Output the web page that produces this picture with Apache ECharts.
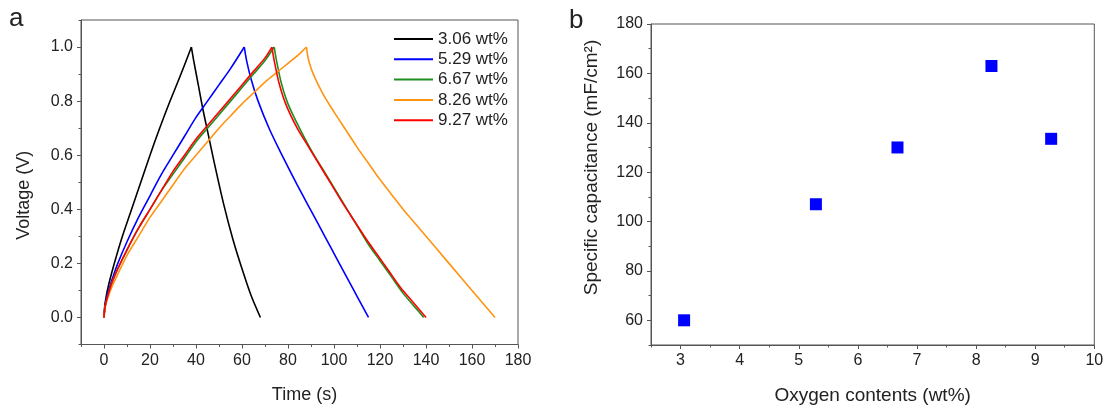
<!DOCTYPE html>
<html>
<head>
<meta charset="utf-8">
<script src="https://cdn.jsdelivr.net/npm/echarts@6/dist/echarts.min.js"></script>
<style>
  html, body { margin: 0; padding: 0; background: #fff; }
  #chart { width: 1108px; height: 410px; }
</style>
</head>
<body>
<div id="chart"></div>
<script>
// ---------- Data (panel a: galvanostatic charge/discharge, [time s, voltage V]) ----------
const seriesNames = ['3.06 wt%', '5.29 wt%', '6.67 wt%', '8.26 wt%', '9.27 wt%'];
const seriesColors = ['#000000', '#0000ff', '#1e8f1e', '#ff9412', '#ff0000'];

const charge306 = [[0,0],[0.3,0.04],[1,0.08],[2,0.12],[3.5,0.17],[5.5,0.23],[8,0.3],[12,0.4],[16,0.5],[20,0.6],[24,0.695],[28,0.785],[33,0.89],[38,1.0]];
const discharge306 = [[38,1.0],[39,0.95],[41,0.86],[43,0.77],[45,0.69],[48,0.57],[52,0.42],[56,0.29],[60,0.18],[64,0.08],[68,0]];
const charge529 = [[0,0],[0.3,0.03],[1,0.07],[2,0.1],[3.5,0.14],[6,0.2],[10,0.28],[15,0.37],[20,0.45],[25,0.53],[30,0.6],[35,0.67],[40,0.74],[45,0.8],[50,0.86],[55,0.92],[61,1.0]];
const discharge529 = [[61,1.0],[62,0.95],[64,0.88],[67,0.8],[72,0.695],[78,0.59],[84,0.49],[90,0.395],[96,0.3],[102,0.205],[108,0.11],[115,0]];
const charge667 = [[0,0],[0.3,0.03],[1,0.06],[2,0.09],[3.5,0.13],[6,0.18],[10,0.25],[15,0.33],[20,0.4],[25,0.47],[30,0.53],[35,0.59],[40,0.65],[45,0.7],[50,0.75],[55,0.8],[60,0.85],[65,0.9],[70,0.95],[74,1.0]];
const discharge667 = [[74,1.0],[75,0.95],[77,0.87],[80,0.79],[85,0.7],[90,0.62],[95,0.55],[100,0.48],[105,0.41],[110,0.34],[115,0.27],[120,0.21],[125,0.15],[130,0.09],[135,0.04],[139,0]];
const charge826 = [[0,0],[0.3,0.03],[1,0.055],[2,0.08],[3.5,0.115],[6,0.16],[10,0.23],[15,0.3],[20,0.37],[25,0.43],[30,0.49],[35,0.55],[40,0.6],[45,0.65],[50,0.7],[55,0.745],[60,0.79],[65,0.83],[70,0.87],[75,0.905],[80,0.94],[85,0.975],[88,1.0]];
const discharge826 = [[88,1.0],[89,0.95],[91,0.9],[95,0.83],[100,0.76],[105,0.695],[110,0.63],[115,0.57],[120,0.51],[125,0.455],[130,0.4],[135,0.35],[140,0.3],[145,0.25],[150,0.2],[155,0.15],[160,0.1],[165,0.05],[170,0]];
const charge927 = [[0,0],[0.3,0.03],[1,0.06],[2,0.09],[3.5,0.13],[6,0.18],[10,0.25],[15,0.33],[20,0.4],[25,0.47],[30,0.54],[35,0.6],[40,0.66],[45,0.71],[50,0.76],[55,0.81],[60,0.86],[65,0.91],[70,0.96],[73,1.0]];
const discharge927 = [[73,1.0],[74,0.95],[76,0.87],[79,0.79],[84,0.7],[89,0.63],[94,0.56],[99,0.49],[104,0.42],[109,0.355],[114,0.29],[119,0.23],[124,0.17],[129,0.11],[134,0.06],[140,0]];

const chargeCurves = [charge306, charge529, charge667, charge826, charge927];
const dischargeCurves = [discharge306, discharge529, discharge667, discharge826, discharge927];

// ---------- Data (panel b) ----------
const oxygenContent = [3.06, 5.29, 6.67, 8.26, 9.27];
const capacitance = [60, 107, 130, 163, 133.5];

// ---------- Tick values ----------
const timeTicks = [0, 20, 40, 60, 80, 100, 120, 140, 160, 180];
const timeMinor = [-10, 10, 30, 50, 70, 90, 110, 130, 150, 170];
const voltTicks = [0.0, 0.2, 0.4, 0.6, 0.8, 1.0];
const voltMinor = [-0.1, 0.1, 0.3, 0.5, 0.7, 0.9, 1.1];
const oxyTicks = [3, 4, 5, 6, 7, 8, 9, 10];
const oxyMinor = [2.5, 3.5, 4.5, 5.5, 6.5, 7.5, 8.5, 9.5];
const capTicks = [60, 80, 100, 120, 140, 160, 180];
const capMinor = [50, 70, 90, 110, 130, 150, 170];

const FONT = '"Liberation Sans", Arial, Helvetica, sans-serif';
const AX = '#555';
const TXT = '#222';

function majorAxis(gridIndex, min, max, ticks, position, name, nameGap, fmt, nameSize, namePad) {
  return {
    type: 'value', gridIndex, min, max, position,
    name, nameLocation: 'middle', nameGap,
    nameTextStyle: { fontFamily: FONT, fontSize: nameSize, color: TXT, padding: namePad },
    axisLine: { show: true, onZero: false, lineStyle: { color: AX, width: 1 } },
    axisTick: { show: true, inside: false, length: 4, lineStyle: { color: AX, width: 1 }, customValues: ticks },
    axisLabel: { show: true, margin: 8, fontFamily: FONT, fontSize: 16, color: TXT, customValues: ticks, formatter: fmt },
    splitLine: { show: false }
  };
}
function minorAxis(gridIndex, min, max, ticks, position) {
  return {
    type: 'value', gridIndex, min, max, position,
    axisLine: { show: false, onZero: false },
    axisTick: { show: true, inside: false, length: 2.5, lineStyle: { color: AX, width: 1 }, customValues: ticks },
    axisLabel: { show: false },
    splitLine: { show: false }
  };
}

const chart = echarts.init(document.getElementById('chart'), null, { renderer: 'canvas' });

const lineSeries = [];
[chargeCurves, dischargeCurves].forEach(group => {
  group.forEach((c, i) => {
    lineSeries.push({
      name: seriesNames[i], type: 'line', xAxisIndex: 0, yAxisIndex: 0,
      data: c, showSymbol: false, symbol: 'none', smooth: 0.3,
      lineStyle: { color: seriesColors[i], width: 1.6 }, itemStyle: { color: seriesColors[i] },
      z: 2 + i
    });
  });
});

chart.setOption({
  animation: false,
  backgroundColor: '#fff',
  textStyle: { fontFamily: FONT },
  grid: [
    { left: 81, right: 590, top: 20, bottom: 65.5, show: true, borderColor: AX, borderWidth: 1, backgroundColor: 'transparent' },
    { left: 651, right: 13.7, top: 24, bottom: 62.7, show: true, borderColor: AX, borderWidth: 1, backgroundColor: 'transparent' }
  ],
  xAxis: [
    majorAxis(0, -10, 180, timeTicks, 'bottom', 'Time (s)', 42, v => String(v), 18, [0, 0, 0, 10]),
    minorAxis(0, -10, 180, timeMinor, 'bottom'),
    majorAxis(1, 2.5, 10, oxyTicks, 'bottom', 'Oxygen contents (wt%)', 41, v => String(v), 19, 0),
    minorAxis(1, 2.5, 10, oxyMinor, 'bottom')
  ],
  yAxis: [
    majorAxis(0, -0.1, 1.1, voltTicks, 'left', 'Voltage (V)', 48, v => v.toFixed(1), 18, [0, 26, 0, 0]),
    minorAxis(0, -0.1, 1.1, voltMinor, 'left'),
    majorAxis(1, 50, 180, capTicks, 'left', 'Specific capacitance (mF/cm\u00B2)', 50, v => String(v), 19, [0, 0, 0, 34]),
    minorAxis(1, 50, 180, capMinor, 'left')
  ],
  legend: {
    data: seriesNames,
    orient: 'vertical', left: 394, top: 29, padding: 0,
    itemWidth: 39, itemHeight: 2, itemGap: 0.3, icon: 'rect',
    textStyle: { fontFamily: FONT, fontSize: 17, color: TXT, lineHeight: 20 }
  },
  graphic: [
    { type: 'text', left: 9, top: 6, style: { text: 'a', fontFamily: FONT, fontSize: 26, fill: TXT } },
    { type: 'text', left: 569, top: 8, style: { text: 'b', fontFamily: FONT, fontSize: 26, fill: TXT } }
  ],
  series: lineSeries.concat([{
    name: 'capacitance', type: 'scatter', xAxisIndex: 2, yAxisIndex: 2,
    data: oxygenContent.map((x, i) => [x, capacitance[i]]),
    symbol: 'rect', symbolSize: 12,
    itemStyle: { color: '#0000ff', opacity: 1 }
  }])
});
</script>
</body>
</html>
